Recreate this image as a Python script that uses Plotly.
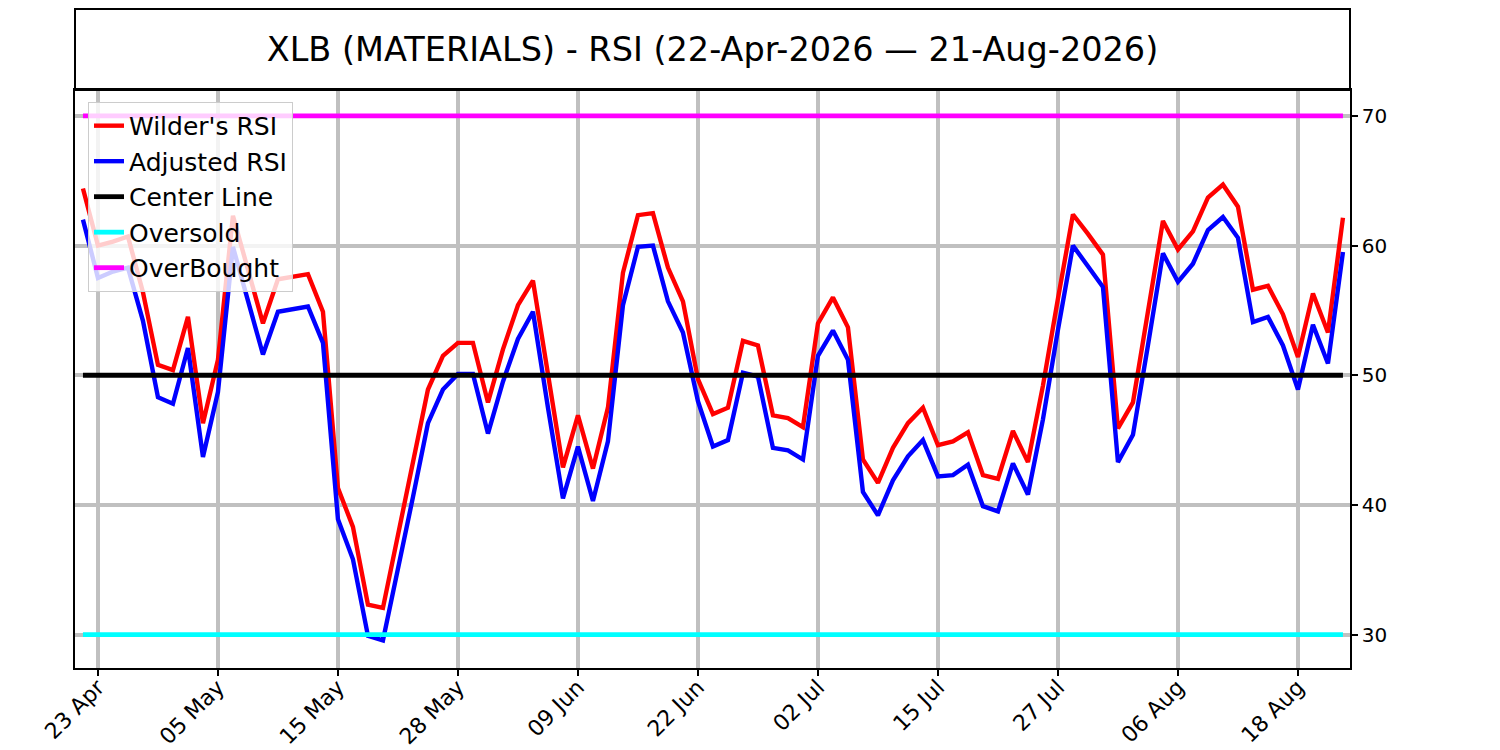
import pandas as pd
import plotly.graph_objects as go

# trading days 22-Apr-2026 .. 21-Aug-2026 (NYSE holidays removed)
START = "2026-04-22"
END = "2026-08-21"
HOLIDAYS = ["2026-05-25", "2026-06-19", "2026-07-03"]

wilders_rsi = [
    64.4, 60.0, 60.3, 60.7, 56.4, 50.8, 50.4, 54.5, 46.3, 51.2,
    62.3, 58.1, 54.0, 57.4, 57.6, 57.8, 54.9, 41.3, 38.3, 32.3,
    32.05, 37.6, 43.5, 48.9, 51.5, 52.5, 52.5, 47.9, 52.0, 55.4,
    57.3, 49.9, 42.9, 46.9, 42.8, 47.5, 57.9, 62.35, 62.5, 58.3,
    55.7, 49.7, 47.0, 47.5, 52.65, 52.3, 46.9, 46.7, 46.0, 54.0,
    56.0, 53.7, 43.5, 41.7, 44.4, 46.3, 47.5, 44.6, 44.9, 45.6,
    42.3, 42.0, 45.7, 43.3, 49.2, 55.9, 62.4, 60.9, 59.3, 45.9,
    47.9, 54.9, 61.9, 59.7, 61.1, 63.7, 64.7, 63.0, 56.6, 56.9,
    54.7, 51.4, 56.3, 53.3, 62.15,
]
adjusted_rsi = [
    62.0, 57.5, 58.0, 58.3, 54.2, 48.3, 47.8, 52.1, 43.7, 48.7,
    59.9, 55.7, 51.6, 54.9, 55.1, 55.3, 52.5, 38.9, 35.8, 29.9,
    29.55, 34.9, 40.6, 46.3, 48.9, 50.1, 50.1, 45.5, 49.5, 52.8,
    54.9, 47.5, 40.5, 44.5, 40.3, 44.9, 55.4, 59.9, 60.0, 55.7,
    53.3, 48.0, 44.5, 45.0, 50.2, 49.9, 44.4, 44.2, 43.5, 51.5,
    53.45, 51.2, 41.0, 39.2, 41.9, 43.75, 45.0, 42.2, 42.3, 43.1,
    39.9, 39.5, 43.2, 40.8, 46.6, 53.5, 60.0, 58.4, 56.8, 43.3,
    45.4, 52.3, 59.4, 57.2, 58.6, 61.2, 62.2, 60.6, 54.1, 54.5,
    52.3, 48.9, 53.9, 50.9, 59.5,
]

CENTER = 50
OVERSOLD = 30
OVERBOUGHT = 70

tick_dates = [
    "2026-04-23", "2026-05-05", "2026-05-15", "2026-05-28", "2026-06-09",
    "2026-06-22", "2026-07-02", "2026-07-15", "2026-07-27", "2026-08-06",
    "2026-08-18",
]
y_ticks = [30, 40, 50, 60, 70]

days = pd.bdate_range(START, END, freq="C", holidays=HOLIDAYS)
x = [d.strftime("%Y-%m-%d") for d in days]
tick_text = [pd.Timestamp(d).strftime("%d %b") for d in tick_dates]
span = [x[0], x[-1]]

title = "XLB (MATERIALS) - RSI (%s — %s)" % (
    days[0].strftime("%d-%b-%Y"), days[-1].strftime("%d-%b-%Y"))

FONT = "DejaVu Sans"

fig = go.Figure()
fig.add_trace(go.Scatter(x=x, y=wilders_rsi, mode="lines", name="Wilder's RSI",
                         line=dict(color="#ff0000", width=4.4)))
fig.add_trace(go.Scatter(x=x, y=adjusted_rsi, mode="lines", name="Adjusted RSI",
                         line=dict(color="#0000ff", width=4.4)))
fig.add_trace(go.Scatter(x=span, y=[CENTER, CENTER], mode="lines", name="Center Line",
                         line=dict(color="#000000", width=4.8)))
fig.add_trace(go.Scatter(x=span, y=[OVERSOLD, OVERSOLD], mode="lines", name="Oversold",
                         line=dict(color="#00ffff", width=4.8)))
fig.add_trace(go.Scatter(x=span, y=[OVERBOUGHT, OVERBOUGHT], mode="lines", name="OverBought",
                         line=dict(color="#ff00ff", width=4.8)))

plot_top = 578 / 659

# box around the title, like a separate header axes
fig.add_shape(type="rect", xref="paper", yref="paper", x0=0, x1=1, y0=plot_top, y1=1,
              line=dict(color="black", width=2), fillcolor="rgba(0,0,0,0)")

# the page body keeps its 8px margin, so the figure is 8px smaller each way
fig.update_layout(
    width=1492, height=742,
    margin=dict(l=67, r=150, t=1, b=82, autoexpand=False),
    paper_bgcolor="white", plot_bgcolor="white",
    font=dict(family=FONT, color="black"),
    title=dict(text=title, x=0.5, xref="paper", y=(plot_top + 1) / 2, yref="paper",
               xanchor="center", yanchor="middle", automargin=False,
               font=dict(size=33.5, family=FONT)),
    showlegend=True,
    legend=dict(x=0.0102, y=0.859, xanchor="left", yanchor="top",
                bgcolor="rgba(255,255,255,0.8)", bordercolor="#cccccc", borderwidth=1,
                font=dict(size=25, family=FONT), itemwidth=30, tracegroupgap=0),
    xaxis=dict(type="category", range=[-0.53, len(x) - 1 + 0.47], automargin=False,
               tickmode="array", tickvals=tick_dates, ticktext=tick_text, tickangle=-45,
               ticks="outside", ticklen=6, tickwidth=1.5, tickcolor="black",
               tickfont=dict(size=22, family=FONT), ticklabelstandoff=-10,
               showgrid=True, gridcolor="#c0c0c0", gridwidth=3.8,
               showline=True, linecolor="black", linewidth=1.5, mirror=True,
               zeroline=False),
    yaxis=dict(side="right", domain=[0, plot_top], range=[27.42, 72.0], automargin=False,
               tickmode="array", tickvals=y_ticks,
               ticks="outside", ticklen=6, tickwidth=1.5, tickcolor="black",
               tickfont=dict(size=20, family=FONT),
               showgrid=True, gridcolor="#c0c0c0", gridwidth=3.8,
               showline=True, linecolor="black", linewidth=1.5, mirror=True,
               zeroline=False),
)

fig.write_html("out.html")
